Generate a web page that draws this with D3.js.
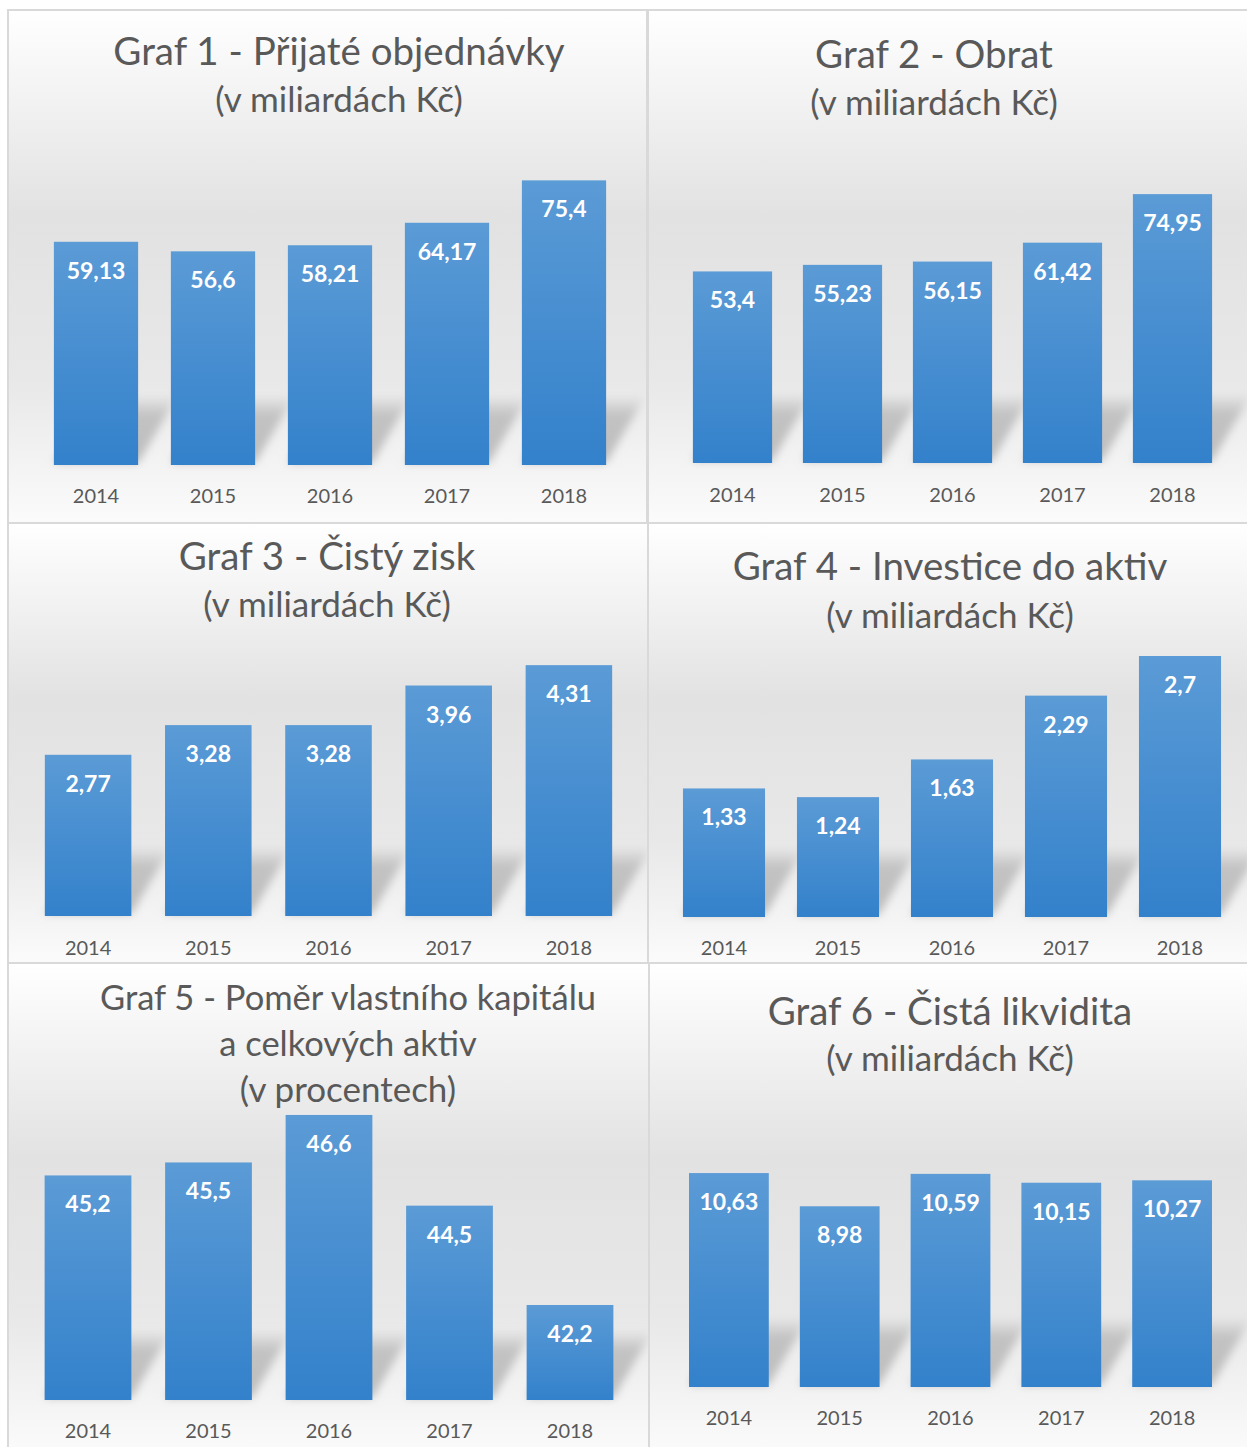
<!DOCTYPE html>
<html>
<head>
<meta charset="utf-8">
<title>Grafy 2014 - 2018</title>
<script src="https://d3js.org/d3.v7.min.js"></script>
<style>
  body { margin: 0; background: #ffffff; }
  svg { display: block; font-family: Lato, "Open Sans", sans-serif; }
</style>
</head>
<body>
<div id="chart"></div>
<script>
// Data
var years = ["2014", "2015", "2016", "2017", "2018"];
var objednavky = [59.13, 56.6, 58.21, 64.17, 75.4];
var obrat = [53.4, 55.23, 56.15, 61.42, 74.95];
var cistyZisk = [2.77, 3.28, 3.28, 3.96, 4.31];
var investice = [1.33, 1.24, 1.63, 2.29, 2.7];
var pomerKapitalu = [45.2, 45.5, 46.6, 44.5, 42.2];
var likvidita = [10.63, 8.98, 10.59, 10.15, 10.27];

var titles = [
  ["Graf 1 - Přijaté objednávky", "(v miliardách Kč)"],
  ["Graf 2 - Obrat", "(v miliardách Kč)"],
  ["Graf 3 - Čistý zisk", "(v miliardách Kč)"],
  ["Graf 4 - Investice do aktiv", "(v miliardách Kč)"],
  ["Graf 5 - Poměr vlastního kapitálu", "a celkových aktiv", "(v procentech)"],
  ["Graf 6 - Čistá likvidita", "(v miliardách Kč)"]
];
var series = [objednavky, obrat, cistyZisk, investice, pomerKapitalu, likvidita];
var domains = [[0, 80], [0, 80], [0, 5], [0, 3], [40, 48], [0, 12]];

// Layout of the six panels
var panels = [
  {x: 8,   y: 10,  w: 639, h: 513, bands: [37.5, 622.5], base: 465, top: 163,  titleX: 339, titleY: 65,   sizes: [38.5, 35], lineH: 47, yearY: 503},
  {x: 648, y: 10,  w: 600, h: 513, bands: [677.5, 1227.5], base: 463, top: 176, titleX: 934, titleY: 68,  sizes: [38.5, 35], lineH: 47, yearY: 502},
  {x: 8,   y: 523, w: 640, h: 440, bands: [28, 629],   base: 916, top: 625,  titleX: 327, titleY: 570,  sizes: [38.5, 35], lineH: 47, yearY: 955},
  {x: 648, y: 523, w: 600, h: 440, bands: [667, 1237], base: 917, top: 627,  titleX: 950, titleY: 580,  sizes: [38.5, 35], lineH: 48, yearY: 955},
  {x: 8,   y: 963, w: 641, h: 490, bands: [27.75, 630.25], base: 1400, top: 1054.5, titleX: 348, titleY: 1010, sizes: [34.5, 34.5, 35], lineH: 46, yearY: 1438},
  {x: 649, y: 963, w: 600, h: 490, bands: [673.5, 1227.5], base: 1387, top: 1145.5, titleX: 950, titleY: 1025, sizes: [38.5, 35], lineH: 46, yearY: 1425}
];

var width = 1247, height = 1447;

var svg = d3.select("#chart").append("svg")
  .attr("width", width)
  .attr("height", height);

var defs = svg.append("defs");

var bg = defs.append("linearGradient")
  .attr("id", "bgGrad")
  .attr("x1", 0).attr("y1", 0).attr("x2", 0).attr("y2", 1);
bg.append("stop").attr("offset", "0%").attr("stop-color", "#ffffff");
bg.append("stop").attr("offset", "40%").attr("stop-color", "#e2e2e2");
bg.append("stop").attr("offset", "72%").attr("stop-color", "#e8e8e8");
bg.append("stop").attr("offset", "100%").attr("stop-color", "#fbfbfb");

var barGrad = defs.append("linearGradient")
  .attr("id", "barGrad")
  .attr("x1", 0).attr("y1", 0).attr("x2", 0).attr("y2", 1);
barGrad.append("stop").attr("offset", "0%").attr("stop-color", "#5b9bd6");
barGrad.append("stop").attr("offset", "100%").attr("stop-color", "#3381cb");

var shadowGrad = defs.append("linearGradient")
  .attr("id", "shadowGrad")
  .attr("x1", 0).attr("y1", 0).attr("x2", 0).attr("y2", 1);
shadowGrad.append("stop").attr("offset", "0%").attr("stop-color", "#bbbbbb").attr("stop-opacity", 0);
shadowGrad.append("stop").attr("offset", "30%").attr("stop-color", "#bbbbbb").attr("stop-opacity", 0.85);
shadowGrad.append("stop").attr("offset", "100%").attr("stop-color", "#bdbdbd").attr("stop-opacity", 1);

defs.append("filter")
  .attr("id", "blur")
  .attr("x", "-20%").attr("y", "-20%").attr("width", "140%").attr("height", "140%")
  .append("feGaussianBlur").attr("stdDeviation", 4);

// Draw each panel
panels.forEach(function(p, i) {
  var values = series[i];
  var g = svg.append("g");

  g.append("rect")
    .attr("x", p.x).attr("y", p.y)
    .attr("width", p.w).attr("height", p.h)
    .attr("fill", "url(#bgGrad)")
    .attr("stroke", "#d9d9d9")
    .attr("stroke-width", 2);

  var x = d3.scaleBand()
    .domain(years)
    .range(p.bands)
    .paddingInner(0.28)
    .paddingOuter(0.14);

  var y = d3.scaleLinear()
    .domain(domains[i])
    .range([p.base, p.top]);

  var rows = years.map(function(yr, j) { return {year: yr, value: values[j]}; });

  // floor shadow
  var sh = 70, skew = 40;
  g.append("g")
    .attr("filter", "url(#blur)")
    .selectAll("path")
    .data(rows)
    .enter().append("path")
      .attr("fill", "url(#shadowGrad)")
      .attr("d", function(d) {
        var x0 = x(d.year), x1 = x0 + x.bandwidth();
        var top = Math.max(y(d.value), p.base - sh);
        var k = (p.base - top) / sh * skew;
        return "M" + x0 + "," + (p.base - 2) +
               "L" + x1 + "," + (p.base - 2) +
               "L" + (x1 + k) + "," + top +
               "L" + (x0 + k) + "," + top + "Z";
      });

  // bars
  g.append("g")
    .selectAll("rect")
    .data(rows)
    .enter().append("rect")
      .attr("x", function(d) { return x(d.year); })
      .attr("y", function(d) { return y(d.value); })
      .attr("width", x.bandwidth())
      .attr("height", function(d) { return p.base - y(d.value); })
      .attr("fill", "url(#barGrad)");

  // data labels
  g.append("g")
    .selectAll("text")
    .data(rows)
    .enter().append("text")
      .attr("x", function(d) { return x(d.year) + x.bandwidth() / 2; })
      .attr("y", function(d) { return y(d.value) + 37; })
      .attr("text-anchor", "middle")
      .attr("fill", "#ffffff")
      .attr("font-weight", "bold")
      .attr("font-size", 23)
      .text(function(d) { return String(d.value).replace(".", ","); });

  // category axis
  var axis = g.append("g")
    .attr("transform", "translate(0," + p.yearY + ")")
    .call(d3.axisBottom(x).tickSize(0).tickPadding(0));
  axis.select(".domain").remove();
  axis.selectAll("text")
    .attr("dy", 0)
    .attr("y", 0)
    .attr("fill", "#595959")
    .attr("font-size", 20)
    .attr("font-family", "Lato, 'Open Sans', sans-serif");

  // title
  g.append("g")
    .selectAll("text")
    .data(titles[i])
    .enter().append("text")
      .attr("x", p.titleX)
      .attr("y", function(d, j) { return p.titleY + j * p.lineH; })
      .attr("text-anchor", "middle")
      .attr("fill", "#595959")
      .attr("font-size", function(d, j) { return p.sizes[j]; })
      .text(function(d) { return d; });
});
</script>
</body>
</html>
